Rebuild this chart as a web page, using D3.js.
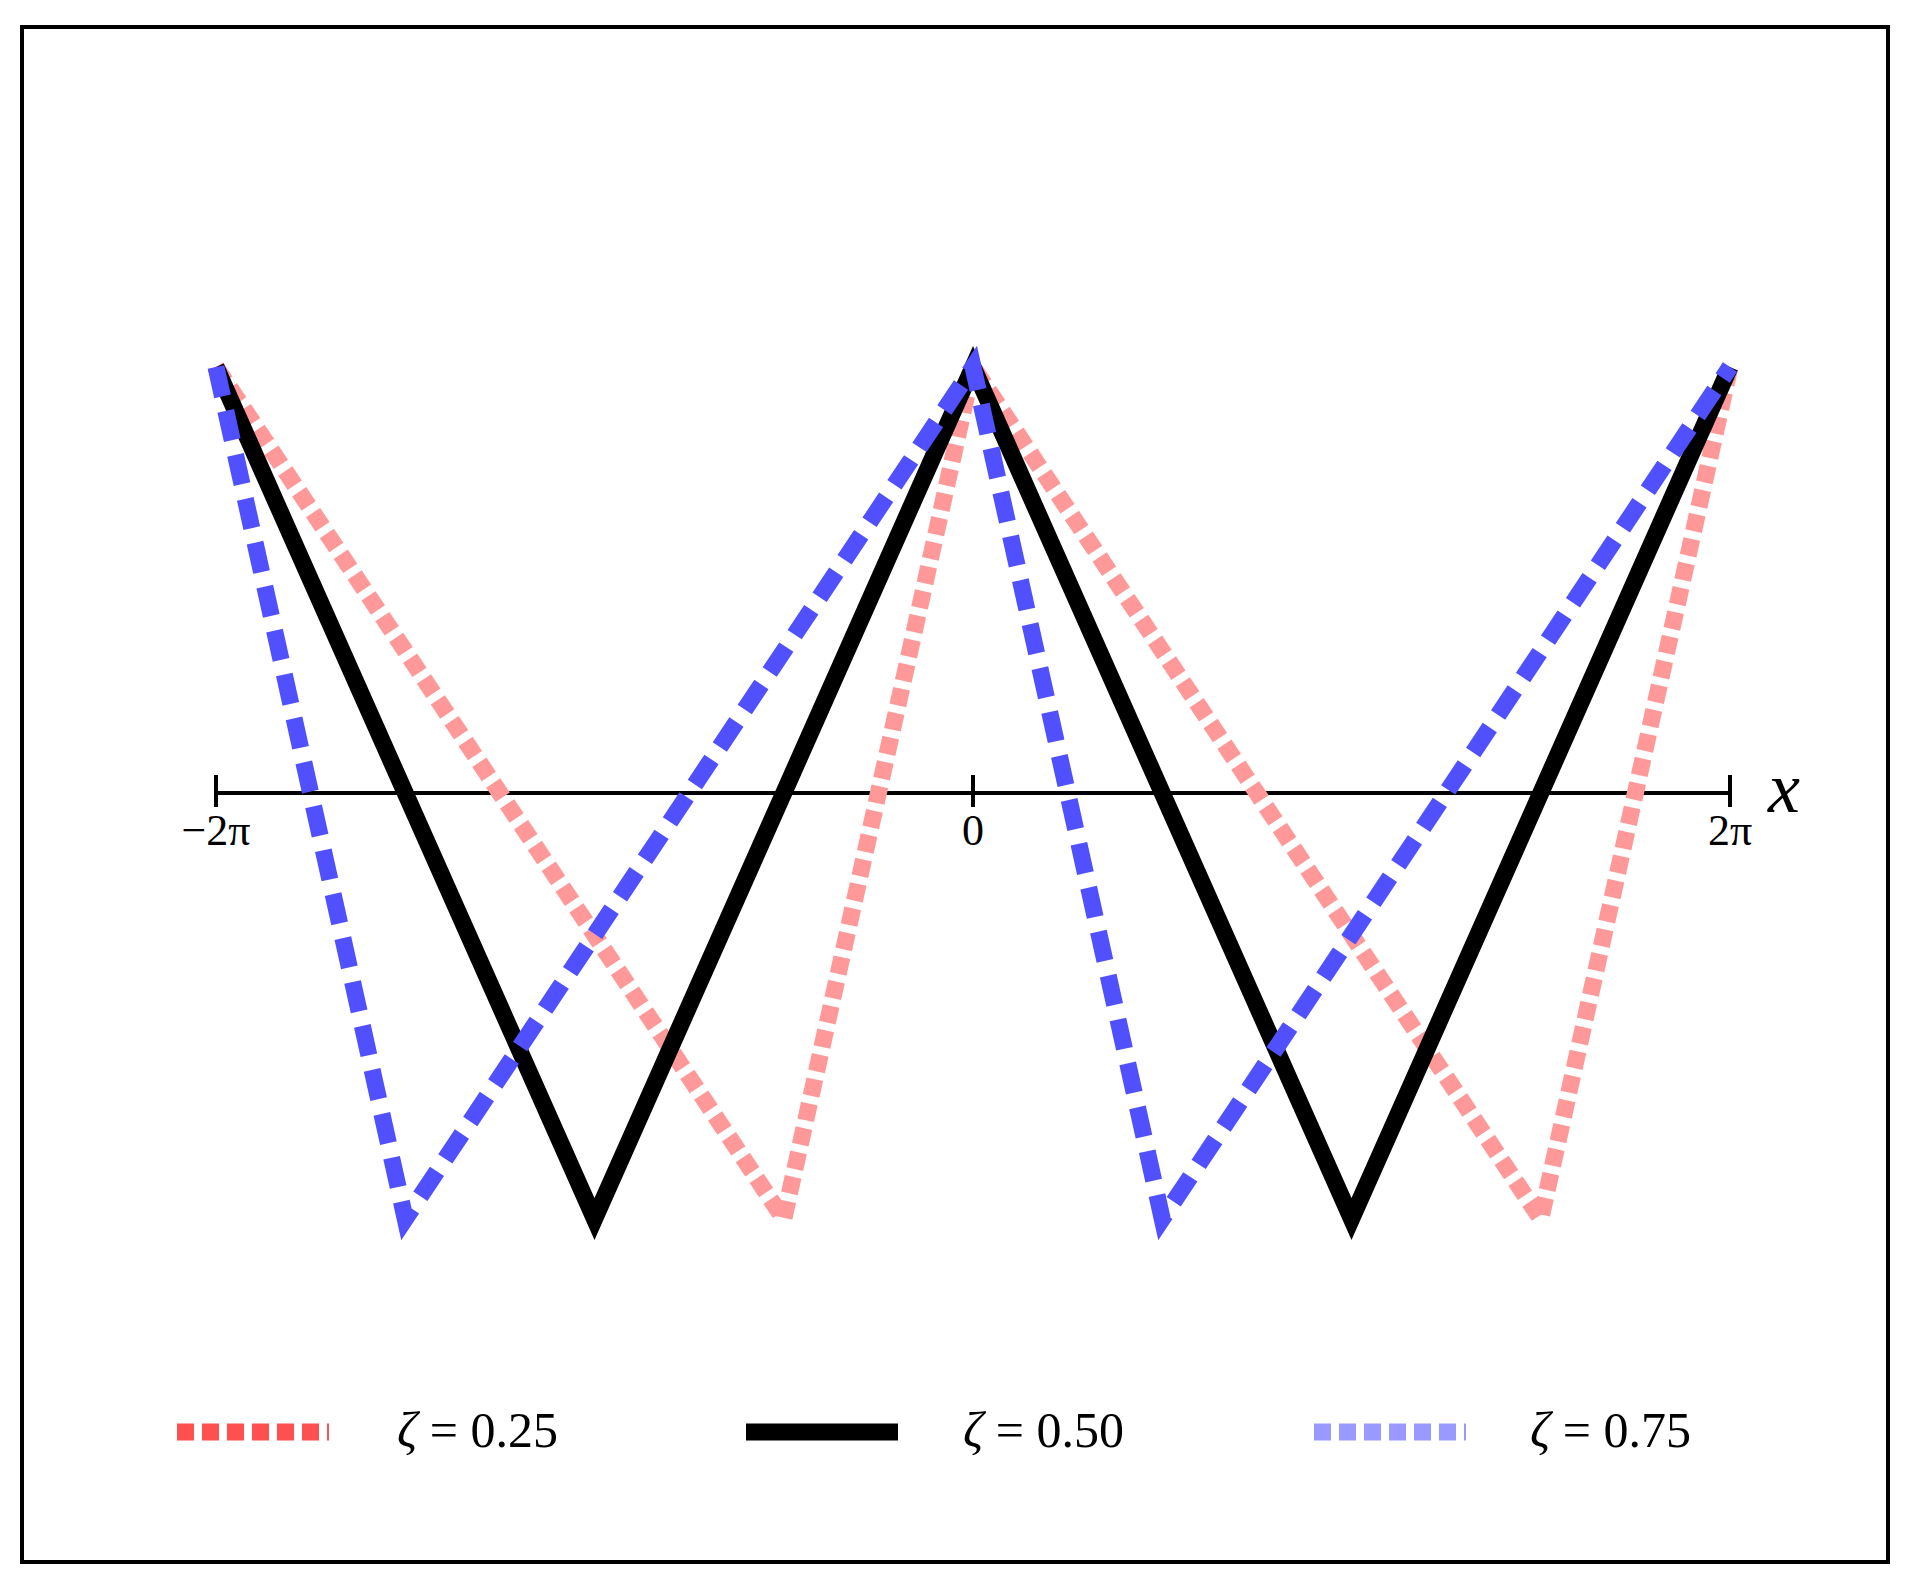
<!DOCTYPE html>
<html>
<head>
<meta charset="utf-8">
<script src="https://cdn.jsdelivr.net/npm/d3@7"></script>
<style>
body { margin: 0; background: white; }
text { font-family: "Liberation Serif", "DejaVu Serif", serif; }
</style>
</head>
<body>
<svg id="chart" width="1908" height="1580"></svg>
<script>
// data: triangle waves, x in units of pi
var zetas = [0.25, 0.50, 0.75]
var seriesX = [
    [-2, -0.5, 0, 1.5, 2],
    [-2, -1, 0, 1, 2],
    [-2, -1.5, 0, 0.5, 2]
]
var seriesY = [1, -1, 1, -1, 1]
var tickValues = [-2, 0, 2]
var tickLabels = ["\u22122\u03c0", "0", "2\u03c0"]
var legendLabels = ["0.25", "0.50", "0.75"]

var svg = d3.select("#chart")

//styles
var lineColors = ["#ff9999", "#000000", "#5050ff"]
var legendColors = ["#ff5050", "#000000", "#9999ff"]
var dashes = ["17,8", null, "30,15"]
var lineWidth = 17

//frame
svg.append("rect")
   .attr("x", 22).attr("y", 27)
   .attr("width", 1866).attr("height", 1535)
   .attr("fill", "none").attr("stroke", "black").attr("stroke-width", 4)

var x = d3.scaleLinear().domain([-2, 2]).range([216, 1730])
var y = d3.scaleLinear().domain([-1, 1]).range([1219, 367])

//axis
svg.append("line")
   .attr("x1", x(-2)).attr("x2", x(2))
   .attr("y1", y(0)).attr("y2", y(0))
   .attr("stroke", "black").attr("stroke-width", 4)

tickValues.forEach(function(t, i) {
    svg.append("line")
       .attr("x1", x(t)).attr("x2", x(t))
       .attr("y1", y(0) - 18).attr("y2", y(0) + 14)
       .attr("stroke", "black").attr("stroke-width", 4)
    svg.append("text")
       .attr("x", x(t)).attr("y", y(0) + 52)
       .attr("text-anchor", "middle")
       .attr("font-size", 44)
       .text(tickLabels[i])
})

svg.append("text")
   .attr("x", 1768).attr("y", 812)
   .attr("font-size", 72).attr("font-style", "italic")
   .text("x")

//lines
var line = d3.line().x(d => x(d[0])).y(d => y(d[1]))
zetas.forEach(function(z, i) {
    var pts = seriesX[i].map((v, j) => [v, seriesY[j]])
    svg.append("path")
       .attr("d", line(pts))
       .attr("fill", "none")
       .attr("stroke", lineColors[i])
       .attr("stroke-width", lineWidth)
       .attr("stroke-dasharray", dashes[i])
       .attr("stroke-linejoin", "miter")
})

//legend
var legendX = [177, 746, 1314]
var textX = [397, 963, 1530]
zetas.forEach(function(z, i) {
    svg.append("line")
       .attr("x1", legendX[i]).attr("x2", legendX[i] + 152)
       .attr("y1", 1432).attr("y2", 1432)
       .attr("stroke", legendColors[i])
       .attr("stroke-width", lineWidth)
       .attr("stroke-dasharray", dashes[i] ? "17,8" : null)
    var t = svg.append("text")
       .attr("x", textX[i]).attr("y", 1447)
       .attr("font-size", 50)
    t.append("tspan").attr("font-style", "italic").text("\u03b6")
    t.append("tspan").text(" = " + legendLabels[i])
})
</script>
</body>
</html>
